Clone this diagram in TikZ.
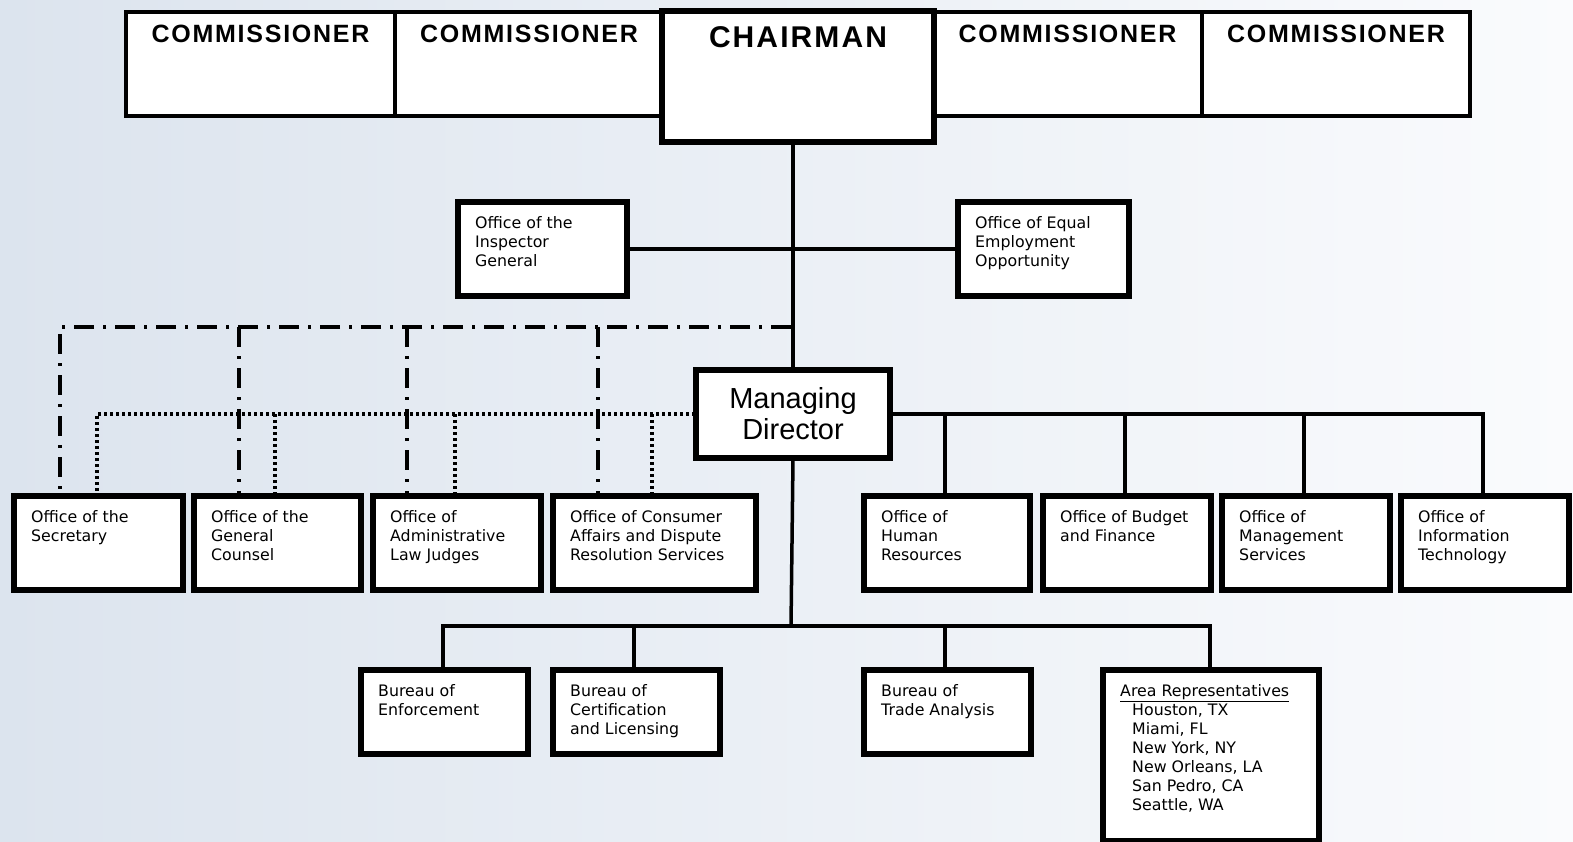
\documentclass[tikz,border=0pt]{standalone}
\usepackage{fontspec}
\setmainfont{DejaVu Sans}
\newfontfamily\headfont{Liberation Sans}
\newfontfamily\spacedfont[LetterSpace=7]{Liberation Sans}
\definecolor{bgleft}{HTML}{DCE4EE}
\definecolor{bgright}{HTML}{FAFBFD}
\tikzset{
  unit/.style={draw, line width=4pt, fill=white, anchor=north west, inner sep=0pt},
  unittext/.style={anchor=north west, align=left, inner sep=0pt,
    font=\fontsize{15.8}{19}\selectfont, xshift=18pt, yshift=-15pt},
  headtext/.style={anchor=north, inner sep=0pt, yshift=-15pt,
    font=\spacedfont\bfseries\fontsize{25}{30}\selectfont},
  link/.style={line width=3.5pt},
  dashlink/.style={line width=3.5pt, dash pattern=on 20pt off 9pt on 3pt off 9pt},
  dotlink/.style={line width=3.5pt, dash pattern=on 3pt off 3pt}
}
\begin{document}
\begin{tikzpicture}[x=1pt,y=-1pt]
  \useasboundingbox (0,0) rectangle (1573,841);
  \fill[left color=bgleft, right color=bgright] (0,0) rectangle (1573,841);

  % junction points
  \coordinate (ddjoin) at (791,327);
  \coordinate (bus) at (791,626);

  % boxes
  \node[unit, minimum width=269pt, minimum height=104pt] (c1) at (124,10) {};
  \node[unit, minimum width=268pt, minimum height=104pt] (c2) at (393,10) {};
  \node[unit, minimum width=269pt, minimum height=104pt] (c3) at (931,10) {};
  \node[unit, minimum width=268pt, minimum height=104pt] (c4) at (1200,10) {};
  \node[unit, minimum width=270pt, minimum height=129pt] (chair) at (661,10) {};

  \node[unit, minimum width=167pt, minimum height=92pt] (ig) at (457,201) {};
  \node[unit, minimum width=169pt, minimum height=92pt] (eeo) at (957,201) {};

  \node[unit, minimum width=192pt, minimum height=86pt, align=center,
    font=\headfont\fontsize{29}{31}\selectfont] (md) at (695,369) {Managing\\Director};

  \node[unit, minimum width=167pt, minimum height=92pt] (sec) at (13,495) {};
  \node[unit, minimum width=165pt, minimum height=92pt] (gc) at (193,495) {};
  \node[unit, minimum width=166pt, minimum height=92pt] (alj) at (372,495) {};
  \node[unit, minimum width=201pt, minimum height=92pt] (cad) at (552,495) {};
  \node[unit, minimum width=164pt, minimum height=92pt] (hr) at (863,495) {};
  \node[unit, minimum width=166pt, minimum height=92pt] (bf) at (1042,495) {};
  \node[unit, minimum width=166pt, minimum height=92pt] (ms) at (1221,495) {};
  \node[unit, minimum width=166pt, minimum height=92pt] (it) at (1400,495) {};

  \node[unit, minimum width=165pt, minimum height=82pt] (enf) at (360,669) {};
  \node[unit, minimum width=165pt, minimum height=82pt] (cert) at (552,669) {};
  \node[unit, minimum width=165pt, minimum height=82pt] (trade) at (863,669) {};
  \node[unit, minimum width=214pt, minimum height=169pt] (area) at (1102,669) {};

  % connectors
  \draw[link] (md.north) -- (md.north |- chair.south);
  \draw[link] (ig.east) -- (eeo.west);

  \draw[dashlink] (ddjoin) -| ([xshift=47pt]sec.north west);
  \draw[dashlink] ([xshift=46pt]gc.north west |- ddjoin) -- ([xshift=46pt]gc.north west);
  \draw[dashlink] ([xshift=35pt]alj.north west |- ddjoin) -- ([xshift=35pt]alj.north west);
  \draw[dashlink] ([xshift=46pt]cad.north west |- ddjoin) -- ([xshift=46pt]cad.north west);

  \draw[dotlink] (md.west) -| ([xshift=84pt]sec.north west);
  \draw[dotlink] ([xshift=82pt]gc.north west |- md.west) -- ([xshift=82pt]gc.north west);
  \draw[dotlink] ([xshift=83pt]alj.north west |- md.west) -- ([xshift=83pt]alj.north west);
  \draw[dotlink] ([xshift=100pt]cad.north west |- md.west) -- ([xshift=100pt]cad.north west);

  \draw[link] (md.east) -| ([xshift=83pt]it.north west);
  \draw[link] ([xshift=82pt]hr.north west |- md.east) -- ([xshift=82pt]hr.north west);
  \draw[link] ([xshift=83pt]bf.north west |- md.east) -- ([xshift=83pt]bf.north west);
  \draw[link] ([xshift=83pt]ms.north west |- md.east) -- ([xshift=83pt]ms.north west);

  \draw[link] (md.south) -- (bus);
  \draw[link] ([xshift=83pt]enf.north west) -- ([xshift=83pt]enf.north west |- bus)
    -- ([xshift=108pt]area.north west |- bus) -- ([xshift=108pt]area.north west);
  \draw[link] ([xshift=82pt]cert.north west |- bus) -- ([xshift=82pt]cert.north west);
  \draw[link] ([xshift=82pt]trade.north west |- bus) -- ([xshift=82pt]trade.north west);

  % redraw the boxes over the line ends
  \foreach \b in {sec,gc,alj,cad,hr,bf,ms,it,enf,cert,trade,area,ig,eeo,chair,md}
    \draw[line width=4pt] (\b.north west) rectangle (\b.south east);

  % texts
  \node[headtext] (c1-t) at (c1.north) {COMMISSIONER};
  \node[headtext] (c2-t) at (c2.north) {COMMISSIONER};
  \node[headtext] (c3-t) at (c3.north) {COMMISSIONER};
  \node[headtext] (c4-t) at (c4.north) {COMMISSIONER};
  \node[headtext, yshift=-1pt, font=\spacedfont\bfseries\fontsize{30}{36}\selectfont] (chair-t) at (chair.north) {CHAIRMAN};

  \node[unittext] (ig-t) at (ig.north west) {Office of the\\Inspector\\General};
  \node[unittext] (eeo-t) at (eeo.north west) {Office of Equal\\Employment\\Opportunity};

  \node[unittext] (sec-t) at (sec.north west) {Office of the\\Secretary};
  \node[unittext] (gc-t) at (gc.north west) {Office of the\\General\\Counsel};
  \node[unittext] (alj-t) at (alj.north west) {Office of\\Administrative\\Law Judges};
  \node[unittext] (cad-t) at (cad.north west) {Office of Consumer\\Affairs and Dispute\\Resolution Services};
  \node[unittext] (hr-t) at (hr.north west) {Office of\\Human\\Resources};
  \node[unittext] (bf-t) at (bf.north west) {Office of Budget\\and Finance};
  \node[unittext] (ms-t) at (ms.north west) {Office of\\Management\\Services};
  \node[unittext] (it-t) at (it.north west) {Office of\\Information\\Technology};

  \node[unittext] (enf-t) at (enf.north west) {Bureau of\\Enforcement};
  \node[unittext] (cert-t) at (cert.north west) {Bureau of\\Certification\\and Licensing};
  \node[unittext] (trade-t) at (trade.north west) {Bureau of\\Trade Analysis};
  \node[unittext] (area-t) at (area.north west) {\underline{Area Representatives}\\
    \hspace*{12pt}Houston, TX\\\hspace*{12pt}Miami, FL\\\hspace*{12pt}New York, NY\\
    \hspace*{12pt}New Orleans, LA\\\hspace*{12pt}San Pedro, CA\\\hspace*{12pt}Seattle, WA};
\end{tikzpicture}
\end{document}
